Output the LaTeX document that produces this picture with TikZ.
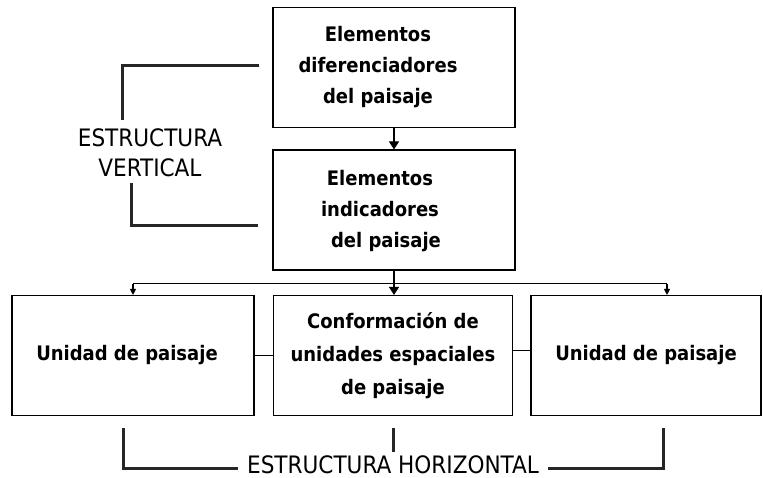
\documentclass[tikz,border=0pt]{standalone}
\usepackage{fontspec}
\setmainfont{DejaVu Sans Condensed}
\usetikzlibrary{positioning,arrows.meta}

\begin{document}
\begin{tikzpicture}[x=1pt, y=-1pt,
   box/.style={draw, line width=1.1pt, minimum width=242pt, minimum height=120pt,
       inner sep=0pt, align=center, font=\fontsize{20}{31}\selectfont\bfseries},
   box text/.style={inner sep=0pt, align=center, font=\fontsize{20}{31}\selectfont\bfseries},
   label text/.style={font=\fontsize{24}{30}\selectfont, align=center, inner sep=3pt},
   bracket/.style={line width=3pt, draw=black!85},
   link/.style={line width=1.1pt},
   tip/.style={-{Triangle[width=10pt,length=8pt]}},
   small tip/.style={-{Triangle[width=6pt,length=6pt]}}]

\useasboundingbox (0,0) rectangle (763,478);

\node[box] (dif) at (394,67.5) {};
\node[box text] (dif-txt) at ([xshift=-16pt]dif.center) {Elementos\\diferenciadores\\del paisaje};
\node[box] (ind) at (394,210) {};
\node[box text] (ind-txt) at ([xshift=-14pt,yshift=-1pt]ind.center) {Elementos\\indicadores\\\hspace*{12pt}del paisaje};

\node[box] (ul) at (133,355.5) {\hspace*{-12pt}Unidad de paisaje};
\node[box, minimum width=239pt, font=\fontsize{20}{33}\selectfont\bfseries] (conf) at (393,355.5)
    {Conformación de\\unidades espaciales\\de paisaje};
\node[box, minimum width=230pt] (ur) at (646,355.5) {Unidad de paisaje};

\node[label text] (vert) at (150,153) {ESTRUCTURA\\VERTICAL};
\node[label text, inner xsep=9pt] (horiz) at (393,465) {ESTRUCTURA HORIZONTAL};

% vertical links
\draw[link, tip] (dif.south) -- (ind.north);
\coordinate (bus) at ([yshift=-13pt]ind.south);
\coordinate (rt) at ([xshift=21pt]ur.north);
\draw[link] (ul.north |- bus) -- (rt |- bus);
\draw[link, tip] (ind.south) -- (ind.south |- conf.north);
\draw[link, small tip] (ul.north |- bus) -- (ul.north);
\draw[link, small tip] (rt |- bus) -- (rt);

% horizontal links
\draw[link] (ul.east) -- (conf.west);
\draw[link] ([yshift=5pt]conf.east) -- ([yshift=5pt]ur.west);

% brackets
\coordinate (v1) at (122,120);
\coordinate (v2) at (131,183);
\coordinate (v3) at (258,226);
\draw[bracket] ([xshift=-13pt,yshift=2pt]dif.west) -| (v1);
\draw[bracket] (v2) |- (v3);

\coordinate (hl) at (123,428);
\coordinate (hr) at (663,428);
\draw[bracket] (hl) |- ([yshift=-3pt]horiz.west);
\draw[bracket] ([yshift=-3pt]horiz.east) -| (hr);
\draw[bracket] ([yshift=-12pt]conf.south) -- ++(0,24);

\end{tikzpicture}
\end{document}
